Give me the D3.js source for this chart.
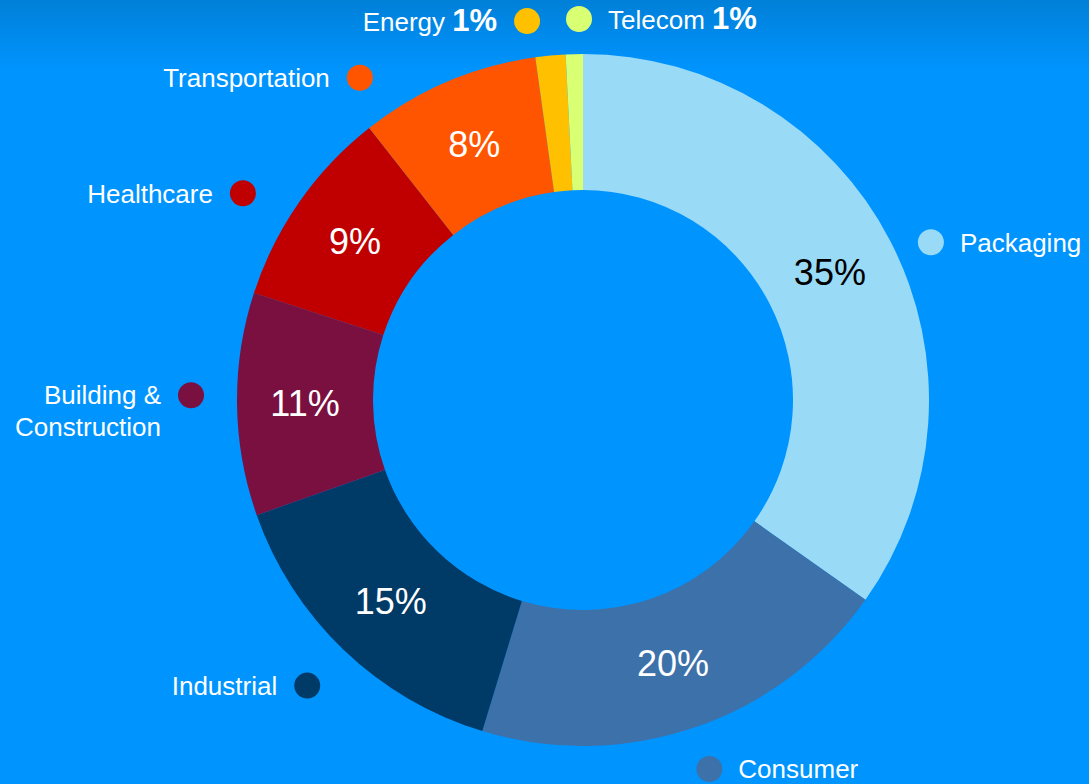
<!DOCTYPE html>
<html>
<head>
<meta charset="utf-8">
<script src="https://cdn.jsdelivr.net/npm/d3@7"></script>
<style>
  html, body { margin: 0; padding: 0; background: #0094ff; }
  svg { display: block; font-family: "Liberation Sans", Arial, sans-serif; }
</style>
</head>
<body>
<div id="chart"></div>
<script>
// slice data, clockwise from 12 o'clock
const categories = ["Packaging", "Consumer", "Industrial", "Building & Construction", "Healthcare", "Transportation", "Energy", "Telecom"];
const shares = [34.8, 19.9, 14.9, 10.4, 9.4, 8.4, 1.4, 0.8];
const shareLabels = ["35%", "20%", "15%", "11%", "9%", "8%", "1%", "1%"];

const colors = ["#99dbf7", "#3d71aa", "#003a66", "#7a1040", "#c00000", "#ff5500", "#ffc000", "#d9ff73"];
const pctColors = ["#000", "#fff", "#fff", "#fff", "#fff", "#fff", null, null];

// where each legend dot sits: angle (deg, clockwise from top) and distance from centre
const legendSpots = [
  { a: 65.6, r: 382, side: "right" },
  { a: 161.1, r: 390, side: "right" },
  { a: 224, r: 397, side: "left" },
  { a: 270.7, r: 392, side: "left" },
  { a: 301.3, r: 398, side: "left" },
  { a: 325.3, r: 392, side: "left" },
  { a: 351.6, r: 383, side: "left" },
  { a: 359.4, r: 381, side: "right" }
];

const width = 1089, height = 784,
    cx = 583, cy = 400,
    outerR = 346, innerR = 210, labelR = 278;

const svg = d3.select("#chart").append("svg")
    .attr("width", width)
    .attr("height", height);

const defs = svg.append("defs");
const grad = defs.append("linearGradient")
    .attr("id", "bg")
    .attr("x1", 0).attr("y1", 0).attr("x2", 0).attr("y2", 1);
grad.append("stop").attr("offset", "0%").attr("stop-color", "#0080d8");
grad.append("stop").attr("offset", "9%").attr("stop-color", "#0094ff");
grad.append("stop").attr("offset", "100%").attr("stop-color", "#0094ff");

svg.append("rect")
    .attr("width", width)
    .attr("height", height)
    .attr("fill", "url(#bg)");

const pie = d3.pie().sort(null).value(d => d);
const arcs = pie(shares);

const arc = d3.arc().innerRadius(innerR).outerRadius(outerR);
const labelArc = d3.arc().innerRadius(labelR).outerRadius(labelR);

const g = svg.append("g").attr("transform", "translate(" + cx + "," + cy + ")");

g.selectAll(".slice")
    .data(arcs)
    .enter().append("path")
    .attr("class", "slice")
    .attr("d", arc)
    .attr("fill", (d, i) => colors[i]);

g.selectAll(".pct")
    .data(arcs.filter((d, i) => pctColors[i]))
    .enter().append("text")
    .attr("class", "pct")
    .attr("transform", d => "translate(" + labelArc.centroid(d) + ")")
    .attr("text-anchor", "middle")
    .attr("dy", "0.36em")
    .attr("font-size", 36)
    .attr("fill", (d, i) => pctColors[i])
    .text((d, i) => shareLabels[i]);

// legend dots and names
const legend = g.selectAll(".legend")
    .data(categories)
    .enter().append("g")
    .attr("class", "legend")
    .attr("transform", (d, i) => {
        const a = legendSpots[i].a * Math.PI / 180;
        return "translate(" + (legendSpots[i].r * Math.sin(a)) + "," + (-legendSpots[i].r * Math.cos(a)) + ")";
    });

legend.append("circle")
    .attr("r", 13)
    .attr("fill", (d, i) => colors[i]);

legend.each(function(d, i) {
    const spot = legendSpots[i];
    const left = spot.side === "left";
    const t = d3.select(this).append("text")
        .attr("x", left ? -30 : 29)
        .attr("y", 9.5)
        .attr("text-anchor", left ? "end" : "start")
        .attr("font-size", 26)
        .attr("fill", "#fff");

    if (d === "Building & Construction") {
        t.append("tspan").attr("x", -30).attr("dy", -1).text("Building &");
        t.append("tspan").attr("x", -30).attr("dy", 32).text("Construction");
    } else if (!pctColors[i]) {
        t.append("tspan").text(d + " ");
        t.append("tspan").attr("font-weight", "bold").attr("font-size", 31).text(shareLabels[i]);
    } else {
        t.text(d);
    }
});
</script>
</body>
</html>
